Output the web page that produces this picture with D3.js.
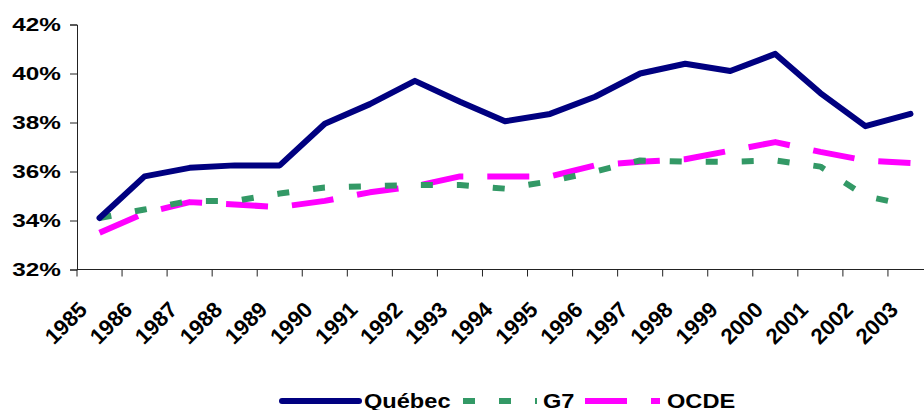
<!DOCTYPE html>
<html>
<head>
<meta charset="utf-8">
<script src="https://cdn.jsdelivr.net/npm/d3@7"></script>
<style>
  body { margin: 0; background: #fff; }
  svg { display: block; font-family: "Liberation Sans", Arial, sans-serif; font-weight: bold; }
</style>
</head>
<body>
<svg id="chart"></svg>
<script>
const years = ["1985","1986","1987","1988","1989","1990","1991","1992","1993","1994",
               "1995","1996","1997","1998","1999","2000","2001","2002","2003"];
const quebec = [34.1, 35.8, 36.15, 36.25, 36.25, 37.95, 38.75, 39.7, 38.85, 38.05,
                38.35, 39.05, 40.0, 40.4, 40.1, 40.8, 39.2, 37.85, 38.35];
const g7 = [34.1, 34.45, 34.8, 34.8, 35.1, 35.35, 35.4, 35.45, 35.45, 35.3,
            35.6, 36.0, 36.45, 36.4, 36.4, 36.45, 36.2, 35.0, 34.6];
const ocde = [33.5, 34.3, 34.75, 34.65, 34.55, 34.8, 35.15, 35.4, 35.8, 35.8,
              35.8, 36.25, 36.4, 36.5, 36.85, 37.2, 36.8, 36.45, 36.35];
const yTicks = [32, 34, 36, 38, 40, 42];

const series = [
    { name: "Québec", values: quebec, color: "#000080", dash: null },
    { name: "G7", values: g7, color: "#339966", dash: "12,24" },
    { name: "OCDE", values: ocde, color: "#ff00ff", dash: "42,24" }
];

const width = 924;
const height = 410;

const svg = d3.select("#chart")
    .attr("width", width)
    .attr("height", height);

// the plot runs past the right edge of the picture, as in the original
const x = d3.scaleBand()
    .domain(years)
    .range([77, 933]);

const y = d3.scaleLinear()
    .domain([32, 42])
    .range([269.5, 24.5]);

// y axis (labels are drawn by hand so they can be widened like the original)
const yAxis = svg.append("g")
    .attr("transform", "translate(77,0)")
    .call(d3.axisLeft(y).tickValues(yTicks).tickSize(7).tickFormat(""));
yAxis.select(".domain").attr("stroke", "#222");
yAxis.selectAll(".tick line").attr("stroke", "#222");

svg.append("g")
    .selectAll("text")
    .data(yTicks)
    .enter()
    .append("text")
    .attr("text-anchor", "end")
    .attr("dy", "0.35em")
    .attr("transform", d => `translate(61, ${y(d)}) scale(1.28, 1)`)
    .style("font-size", "19px")
    .text(d => d + "%");

// x axis, ticks between categories
const xAxisG = svg.append("g").attr("transform", "translate(0,269.5)");
xAxisG.append("line")
    .attr("x1", 77).attr("x2", 933)
    .attr("stroke", "#222");
xAxisG.selectAll(".xtick")
    .data(years)
    .enter()
    .append("line")
    .attr("class", "xtick")
    .attr("x1", d => x(d)).attr("x2", d => x(d))
    .attr("y1", 0).attr("y2", 7)
    .attr("stroke", "#222");

svg.append("g")
    .selectAll("text")
    .data(years)
    .enter()
    .append("text")
    .attr("text-anchor", "end")
    .attr("transform", d => `translate(${x(d) + x.bandwidth() / 2 - 11}, 311) rotate(-45)`)
    .style("font-size", "22px")
    .text(d => d);

// lines
const line = d3.line()
    .x((d, i) => x(years[i]) + x.bandwidth() / 2)
    .y(d => y(d));

svg.append("g")
    .selectAll("path")
    .data(series.slice().reverse())
    .enter()
    .append("path")
    .attr("fill", "none")
    .attr("stroke", d => d.color)
    .attr("stroke-width", 6)
    .attr("stroke-linejoin", "round")
    .attr("stroke-linecap", d => d.dash ? "butt" : "round")
    .attr("stroke-dasharray", d => d.dash)
    .attr("d", d => line(d.values));

// legend
const legendPos = [
    { x1: 282, x2: 359, tx: 364 },
    { x1: 463, x2: 537, tx: 543 },
    { x1: 585, x2: 660, tx: 667 }
];
const legend = svg.append("g");
series.forEach((s, i) => {
    const p = legendPos[i];
    legend.append("line")
        .attr("x1", p.x1).attr("x2", p.x2)
        .attr("y1", 401).attr("y2", 401)
        .attr("stroke", s.color)
        .attr("stroke-width", 6)
        .attr("stroke-linecap", s.dash ? "butt" : "round")
        .attr("stroke-dasharray", s.dash);
    legend.append("text")
        .attr("transform", `translate(${p.tx}, 408) scale(1.18, 1)`)
        .style("font-size", "20px")
        .text(s.name);
});
</script>
</body>
</html>
